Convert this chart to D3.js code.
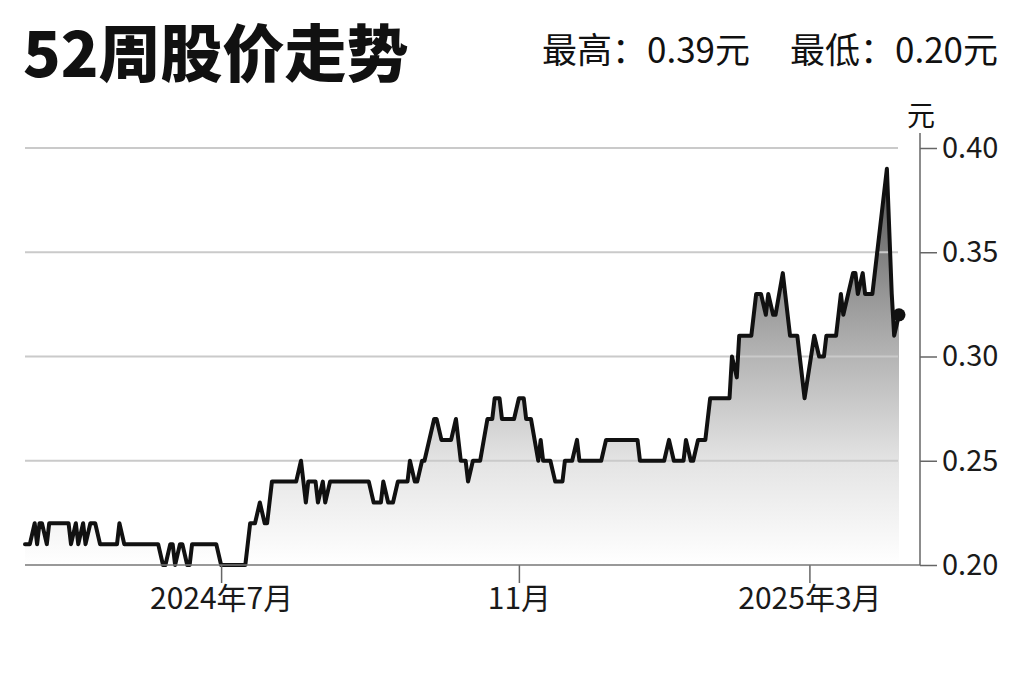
<!DOCTYPE html>
<html>
<head>
<meta charset="utf-8">
<title>52周股价走势</title>
<script src="https://cdnjs.cloudflare.com/ajax/libs/d3/7.8.5/d3.min.js"></script>
<style>
  body { margin: 0; background: #fff; }
  svg text { font-family: "Noto Sans CJK SC", "Noto Sans", sans-serif; fill: #111; }
  .grid line { stroke: #cacaca; stroke-width: 2; }
  .axis line { stroke: #666; stroke-width: 1.5; }
  .axis text { fill: #1a1a1a; }
</style>
</head>
<body>
<div id="chart"></div>
<script>
// 52周股价（港元）
var dates = [
  "2024-04-11","2024-04-13","2024-04-15","2024-04-16","2024-04-17","2024-04-18","2024-04-20","2024-04-21",
  "2024-04-29","2024-04-30","2024-05-02","2024-05-03","2024-05-05","2024-05-06","2024-05-08","2024-05-10",
  "2024-05-12","2024-05-19","2024-05-20","2024-05-22","2024-06-05","2024-06-07","2024-06-08","2024-06-10",
  "2024-06-11","2024-06-12","2024-06-14","2024-06-15","2024-06-17","2024-06-18","2024-06-19","2024-06-29",
  "2024-07-01","2024-07-11","2024-07-13","2024-07-15","2024-07-17","2024-07-19","2024-07-20","2024-07-22",
  "2024-08-01","2024-08-03","2024-08-05","2024-08-06","2024-08-09","2024-08-10","2024-08-12","2024-08-13",
  "2024-08-15","2024-08-31","2024-09-02","2024-09-05","2024-09-06","2024-09-08","2024-09-10","2024-09-12",
  "2024-09-16","2024-09-17","2024-09-19","2024-09-20","2024-09-22","2024-09-23","2024-09-27","2024-09-28",
  "2024-09-30","2024-10-04","2024-10-06","2024-10-08","2024-10-10","2024-10-11","2024-10-13","2024-10-16",
  "2024-10-19","2024-10-21","2024-10-22","2024-10-24","2024-10-25","2024-10-30","2024-11-01","2024-11-03",
  "2024-11-04","2024-11-06","2024-11-09","2024-11-10","2024-11-11","2024-11-14","2024-11-16","2024-11-19",
  "2024-11-20","2024-11-23","2024-11-25","2024-11-26","2024-12-05","2024-12-07","2024-12-20","2024-12-21",
  "2024-12-31","2025-01-02","2025-01-04","2025-01-08","2025-01-09","2025-01-11","2025-01-12","2025-01-14",
  "2025-01-17","2025-01-19","2025-01-27","2025-01-28","2025-01-30","2025-01-31","2025-02-05","2025-02-07",
  "2025-02-09","2025-02-11","2025-02-12","2025-02-14","2025-02-15","2025-02-18","2025-02-21","2025-02-24",
  "2025-02-27","2025-03-03","2025-03-05","2025-03-07","2025-03-08","2025-03-12","2025-03-14","2025-03-15",
  "2025-03-19","2025-03-20","2025-03-21","2025-03-23","2025-03-24","2025-03-27","2025-03-29","2025-03-30",
  "2025-04-02","2025-04-04","2025-04-05","2025-04-07"
];
var prices = [
  0.21,0.21,0.22,0.21,0.22,0.22,0.21,0.22,
  0.22,0.21,0.22,0.21,0.22,0.21,0.22,0.22,
  0.21,0.21,0.22,0.21,0.21,0.20,0.20,0.21,
  0.21,0.20,0.21,0.21,0.20,0.20,0.21,0.21,
  0.20,0.20,0.22,0.22,0.23,0.22,0.22,0.24,
  0.24,0.25,0.23,0.24,0.24,0.23,0.24,0.23,
  0.24,0.24,0.23,0.23,0.24,0.23,0.23,0.24,
  0.24,0.25,0.24,0.24,0.25,0.25,0.27,0.27,
  0.26,0.26,0.27,0.25,0.25,0.24,0.25,0.25,
  0.27,0.27,0.28,0.28,0.27,0.27,0.28,0.28,
  0.27,0.27,0.25,0.26,0.25,0.25,0.24,0.24,
  0.25,0.25,0.26,0.25,0.25,0.26,0.26,0.25,
  0.25,0.26,0.25,0.25,0.26,0.25,0.25,0.26,
  0.26,0.28,0.28,0.30,0.29,0.31,0.31,0.33,
  0.33,0.32,0.33,0.32,0.32,0.34,0.31,0.31,
  0.28,0.31,0.30,0.30,0.31,0.31,0.33,0.32,
  0.34,0.34,0.33,0.34,0.33,0.33,0.35,0.36,
  0.39,0.33,0.31,0.32
];
var yTicks = [0.20, 0.25, 0.30, 0.35, 0.40];
var xTickDates = ["2024-07-01", "2024-11-01", "2025-03-01"];
var xTickLabels = ["2024年7月", "11月", "2025年3月"];
var titleText = "52周股价走势";
var highText = "最高：0.39元";
var lowText = "最低：0.20元";
var unitText = "元";

var width = 1024, height = 682;
var parse = d3.timeParse("%Y-%m-%d");

var data = dates.map(function(d, i) {
  return { date: parse(d), value: prices[i] };
});

var x = d3.scaleTime()
  .domain([parse("2024-04-11"), parse("2025-04-07")])
  .range([25, 899]);

var y = d3.scaleLinear()
  .domain([0.20, 0.40])
  .range([565, 148]);

var svg = d3.select("#chart").append("svg")
  .attr("width", width)
  .attr("height", height);

svg.append("rect").attr("width", width).attr("height", height).attr("fill", "#fff");

// titles
svg.append("text")
  .attr("x", 23).attr("y", 77)
  .attr("font-size", 62).attr("font-weight", 900)
  .text(titleText);

svg.append("text")
  .attr("x", 998).attr("y", 63)
  .attr("text-anchor", "end")
  .attr("font-size", 35)
  .attr("fill", "#1a1a1a")
  .text(lowText);

svg.append("text")
  .attr("x", 750).attr("y", 63)
  .attr("text-anchor", "end")
  .attr("font-size", 35)
  .attr("fill", "#1a1a1a")
  .text(highText);

// gradient fill
var grad = svg.append("defs").append("linearGradient")
  .attr("id", "fade")
  .attr("gradientUnits", "userSpaceOnUse")
  .attr("x1", 0).attr("x2", 0)
  .attr("y1", y(0.39)).attr("y2", y(0.20));

[[0, "#505050"], [0.31, "#959595"], [0.47, "#b4b4b4"], [0.74, "#e4e4e4"], [1, "#fff"]]
  .forEach(function(s) {
    grad.append("stop").attr("offset", s[0]).attr("stop-color", s[1]);
  });

var area = d3.area()
  .x(function(d) { return x(d.date); })
  .y0(y(0.20))
  .y1(function(d) { return y(d.value); });

svg.append("path")
  .datum(data)
  .attr("d", area)
  .attr("fill", "url(#fade)");

// gridlines
svg.append("g").attr("class", "grid")
  .selectAll("line")
  .data(yTicks.slice(1))
  .enter().append("line")
  .attr("x1", 25).attr("x2", 898)
  .attr("y1", function(d) { return y(d); })
  .attr("y2", function(d) { return y(d); });

// price line
var line = d3.line()
  .x(function(d) { return x(d.date); })
  .y(function(d) { return y(d.value); });

svg.append("path")
  .datum(data)
  .attr("d", line)
  .attr("fill", "none")
  .attr("stroke", "#111")
  .attr("stroke-width", 4)
  .attr("stroke-linejoin", "round")
  .attr("stroke-linecap", "round");

var last = data[data.length - 1];
svg.append("circle")
  .attr("cx", x(last.date))
  .attr("cy", y(last.value))
  .attr("r", 6.5)
  .attr("fill", "#111");

// x axis
var xAxis = d3.axisBottom(x)
  .tickValues(xTickDates.map(parse))
  .tickSize(18)
  .tickPadding(5)
  .tickFormat(function(d, i) { return xTickLabels[i]; });

var gx = svg.append("g").attr("class", "axis")
  .attr("transform", "translate(0," + y(0.20) + ")")
  .call(xAxis);
gx.select(".domain").remove();
gx.selectAll("text").attr("font-size", 30);

svg.append("line")
  .attr("x1", 25).attr("x2", 920)
  .attr("y1", y(0.20)).attr("y2", y(0.20))
  .attr("stroke", "#777").attr("stroke-width", 1.5);

// y axis on right
var yAxis = d3.axisRight(y)
  .tickValues(yTicks)
  .tickSize(17)
  .tickPadding(5)
  .tickFormat(d3.format(".2f"));

var gy = svg.append("g").attr("class", "axis")
  .attr("transform", "translate(920,0)")
  .call(yAxis);
gy.select(".domain").remove();
gy.selectAll("text").attr("font-size", 29);

svg.append("line")
  .attr("x1", 920).attr("x2", 920)
  .attr("y1", 133).attr("y2", y(0.20))
  .attr("stroke", "#666").attr("stroke-width", 1.5);

svg.append("text")
  .attr("x", 921).attr("y", 126)
  .attr("text-anchor", "middle")
  .attr("font-size", 28)
  .text(unitText);
</script>
</body>
</html>
